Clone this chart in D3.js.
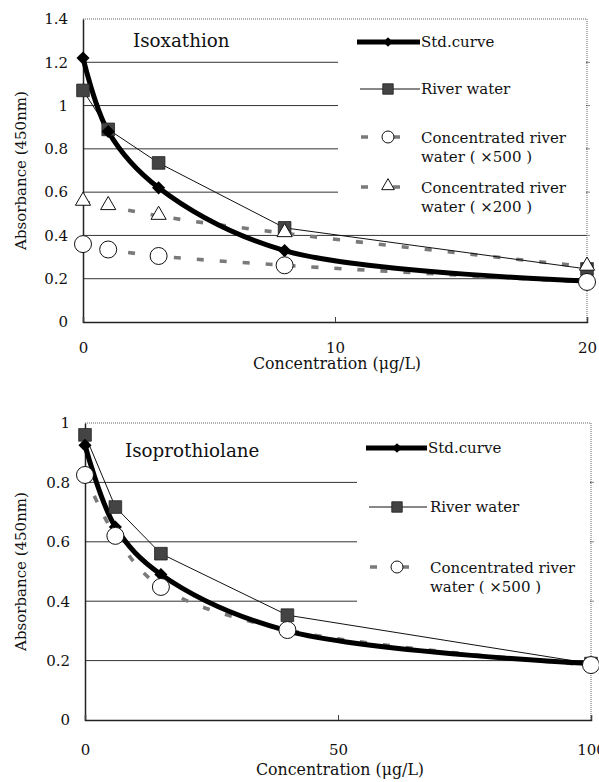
<!DOCTYPE html>
<html lang="en">
<head>
<meta charset="utf-8">
<title>Isoxathion / Isoprothiolane</title>
<script src="https://d3js.org/d3.v7.min.js"></script>
<style>
  body { margin: 0; background: #fff; }
  svg text { font-family: "DejaVu Serif", serif; fill: #111; }
</style>
</head>
<body>
<div id="chart"></div>
<script>
// ---- data ----
var topX = [0, 1, 3, 8, 20];
var topStd = [1.22, 0.88, 0.62, 0.33, 0.19];
var topRiver = [1.07, 0.89, 0.735, 0.435, 0.245];
var topConc500 = [0.36, 0.335, 0.305, 0.262, 0.185];
var topConc200 = [0.555, 0.535, 0.49, 0.41, 0.255];
var topYTicks = [0, 0.2, 0.4, 0.6, 0.8, 1, 1.2, 1.4];
var topXTicks = [0, 10, 20];

var botX = [0, 6, 15, 40, 100];
var botStd = [0.925, 0.65, 0.49, 0.30, 0.19];
var botRiver = [0.96, 0.717, 0.56, 0.353, 0.19];
var botConc500 = [0.825, 0.62, 0.448, 0.303, 0.185];
var botYTicks = [0, 0.2, 0.4, 0.6, 0.8, 1];
var botXTicks = [0, 50, 100];

var W = 599, H = 782;
var svg = d3.select("#chart").append("svg")
    .attr("width", W).attr("height", H);

function fmt(d) { return String(+d.toFixed(1)); }

// draws one panel
function panel(o) {
  var x = d3.scaleLinear().domain(o.xDomain).range([o.left, o.right]);
  var y = d3.scaleLinear().domain(o.yDomain).range([o.bottom, o.top]);
  var g = svg.append("g");
  var inner = o.yTicks.filter(function(d) { return d > 0 && d < o.yDomain[1]; });

  // gridlines
  g.selectAll(null).data(inner).enter().append("line")
      .attr("x1", o.left).attr("x2", o.right)
      .attr("y1", function(d) { return y(d); })
      .attr("y2", function(d) { return y(d); })
      .attr("stroke", "#333").attr("stroke-width", 1);

  // top & right border (dotted gray) + small marks on the right edge
  g.append("path")
    .attr("d", "M" + o.left + "," + o.top + "H" + o.right + "V" + o.bottom)
    .attr("fill", "none").attr("stroke", "#666")
    .attr("stroke-width", 1).attr("stroke-dasharray", "1,1");
  g.selectAll(null).data(inner).enter().append("line")
      .attr("x1", o.right).attr("x2", o.right + 3)
      .attr("y1", function(d) { return y(d); })
      .attr("y2", function(d) { return y(d); })
      .attr("stroke", "#888").attr("stroke-width", 1);

  // legend background box covering the grid
  g.append("rect")
    .attr("x", o.legX).attr("y", o.top + 1)
    .attr("width", o.right - o.legX - 1).attr("height", o.legH)
    .attr("fill", "#fff");

  // axes
  var yAxis = g.append("g")
    .attr("transform", "translate(" + o.left + ",0)")
    .call(d3.axisLeft(y).tickValues(o.yTicks).tickSize(0).tickPadding(15).tickFormat(fmt));
  yAxis.select(".domain").attr("stroke", "#222").attr("stroke-width", 1.5);
  yAxis.selectAll("text").style("font-size", "15px").style("font-family", "DejaVu Serif")
    .attr("fill", "#111");

  var xAxis = g.append("g")
    .attr("transform", "translate(0," + o.bottom + ")")
    .call(d3.axisBottom(x).tickValues(o.xTicks).tickSize(-5).tickFormat(d3.format("d")));
  xAxis.select(".domain").attr("stroke", "#222").attr("stroke-width", 1.5);
  xAxis.selectAll(".tick line").attr("stroke", "#444");
  xAxis.selectAll("text").style("font-size", "15px").style("font-family", "DejaVu Serif")
    .attr("fill", "#111").attr("y", o.tickY).attr("dy", 0);

  // axis titles
  g.append("text")
    .attr("x", (o.left + o.right) / 2 + 2).attr("y", o.bottom + o.xTitleY)
    .attr("text-anchor", "middle").style("font-size", "15.8px")
    .text("Concentration (\u03bcg/L)");
  g.append("text")
    .attr("transform", "translate(26," + ((o.top + o.bottom) / 2) + ") rotate(-90)")
    .attr("text-anchor", "middle").style("font-size", "15px")
    .text("Absorbance (450nm)");

  // panel title
  g.append("text")
    .attr("x", o.titleX).attr("y", o.titleY)
    .style("font-size", "18.3px").text(o.title);

  var smooth = d3.line().curve(d3.curveCatmullRom.alpha(0.5))
    .x(function(d) { return x(d[0]); }).y(function(d) { return y(d[1]); });
  var straight = d3.line()
    .x(function(d) { return x(d[0]); }).y(function(d) { return y(d[1]); });

  function pts(vals) { return o.xs.map(function(v, i) { return [v, vals[i]]; }); }

  // dotted concentrated series
  o.conc.forEach(function(c) {
    g.append("path").datum(pts(c.vals))
      .attr("d", smooth).attr("fill", "none")
      .attr("stroke", "#7a7a7a").attr("stroke-width", 3.6)
      .attr("stroke-dasharray", "7,16");
  });
  // river water
  g.append("path").datum(pts(o.river))
    .attr("d", straight).attr("fill", "none")
    .attr("stroke", "#111").attr("stroke-width", 1);
  // std curve
  g.append("path").datum(pts(o.std))
    .attr("d", smooth).attr("fill", "none")
    .attr("stroke", "#000").attr("stroke-width", 5);

  // markers
  var diamond = d3.symbol().type(d3.symbolDiamond2).size(110);
  var square = d3.symbol().type(d3.symbolSquare).size(160);
  var tri = d3.symbol().type(d3.symbolTriangle).size(100);

  g.selectAll(null).data(pts(o.river)).enter().append("path")
    .attr("d", square)
    .attr("transform", function(d) { return "translate(" + x(d[0]) + "," + y(d[1]) + ")"; })
    .attr("fill", "#444").attr("stroke", "#222").attr("stroke-width", 0.8);
  g.selectAll(null).data(pts(o.std)).enter().append("path")
    .attr("d", diamond)
    .attr("transform", function(d) { return "translate(" + x(d[0]) + "," + y(d[1]) + ")"; })
    .attr("fill", "#000");
  o.conc.forEach(function(c) {
    var sel = g.selectAll(null).data(pts(c.vals)).enter();
    if (c.shape === "circle") {
      sel.append("circle")
        .attr("cx", function(d) { return x(d[0]); })
        .attr("cy", function(d) { return y(d[1]); })
        .attr("r", 8.5).attr("fill", "#fff").attr("stroke", "#111").attr("stroke-width", 1);
    } else {
      sel.append("path").attr("d", tri)
        .attr("transform", function(d) { return "translate(" + x(d[0]) + "," + (y(d[1]) - 1) + ")"; })
        .attr("fill", "#fff").attr("stroke", "#111").attr("stroke-width", 1);
    }
  });

  // legend
  var L = o.leg;
  var lg = g.append("g");
  // std
  lg.append("line").attr("x1", L.x0).attr("x2", L.x1).attr("y1", L.ys[0]).attr("y2", L.ys[0])
    .attr("stroke", "#000").attr("stroke-width", 5);
  lg.append("path").attr("d", d3.symbol().type(d3.symbolDiamond2).size(60))
    .attr("transform", "translate(" + L.xm + "," + L.ys[0] + ")").attr("fill", "#000");
  lg.append("text").attr("x", L.x1 + 1).attr("y", L.ys[0] + 5)
    .style("font-size", "15px").text("Std.curve");
  // river
  lg.append("line").attr("x1", L.x0 + 3).attr("x2", L.x1).attr("y1", L.ys[1]).attr("y2", L.ys[1])
    .attr("stroke", "#111").attr("stroke-width", 1);
  lg.append("path").attr("d", d3.symbol().type(d3.symbolSquare).size(110))
    .attr("transform", "translate(" + L.xm + "," + L.ys[1] + ")")
    .attr("fill", "#444").attr("stroke", "#222").attr("stroke-width", 0.8);
  lg.append("text").attr("x", L.tx).attr("y", L.ys[1] + 5)
    .style("font-size", "15px").text("River water");
  // concentrated
  o.conc.forEach(function(c, i) {
    var yy = L.ys[2 + i];
    lg.append("line").attr("x1", L.x0 + 4).attr("x2", L.xm + 14).attr("y1", yy).attr("y2", yy)
      .attr("stroke", "#7a7a7a").attr("stroke-width", 3.6).attr("stroke-dasharray", "7,25");
    if (c.shape === "circle") {
      lg.append("circle").attr("cx", L.xm).attr("cy", yy).attr("r", 6)
        .attr("fill", "#fff").attr("stroke", "#111").attr("stroke-width", 1);
    } else {
      lg.append("path").attr("d", d3.symbol().type(d3.symbolTriangle).size(70))
        .attr("transform", "translate(" + L.xm + "," + (yy - 1) + ")")
        .attr("fill", "#fff").attr("stroke", "#111").attr("stroke-width", 1);
    }
    lg.append("text").attr("x", L.tx).attr("y", yy + 6)
      .style("font-size", "15px").text("Concentrated river");
    lg.append("text").attr("x", L.tx).attr("y", yy + 25)
      .style("font-size", "15px").text("water ( \u00d7" + c.factor + " )");
  });
}

panel({
  left: 83, right: 587, top: 19, bottom: 322,
  xDomain: [0, 20], yDomain: [0, 1.4],
  xs: topX, yTicks: topYTicks, xTicks: topXTicks,
  std: topStd, river: topRiver,
  conc: [{vals: topConc500, shape: "circle", factor: 500},
         {vals: topConc200, shape: "triangle", factor: 200}],
  title: "Isoxathion", titleX: 133, titleY: 47,
  tickY: 31, xTitleY: 47,
  legX: 338, legH: 177,
  leg: {x0: 357, x1: 420, xm: 388, tx: 421, ys: [42, 89, 137, 187]}
});

panel({
  left: 85, right: 591, top: 423, bottom: 720,
  xDomain: [0, 100], yDomain: [0, 1],
  xs: botX, yTicks: botYTicks, xTicks: botXTicks,
  std: botStd, river: botRiver,
  conc: [{vals: botConc500, shape: "circle", factor: 500}],
  title: "Isoprothiolane", titleX: 125, titleY: 457,
  tickY: 35, xTitleY: 55,
  legX: 357, legH: 190,
  leg: {x0: 366, x1: 427, xm: 397, tx: 430, ys: [448, 507, 567]}
});
</script>
</body>
</html>
